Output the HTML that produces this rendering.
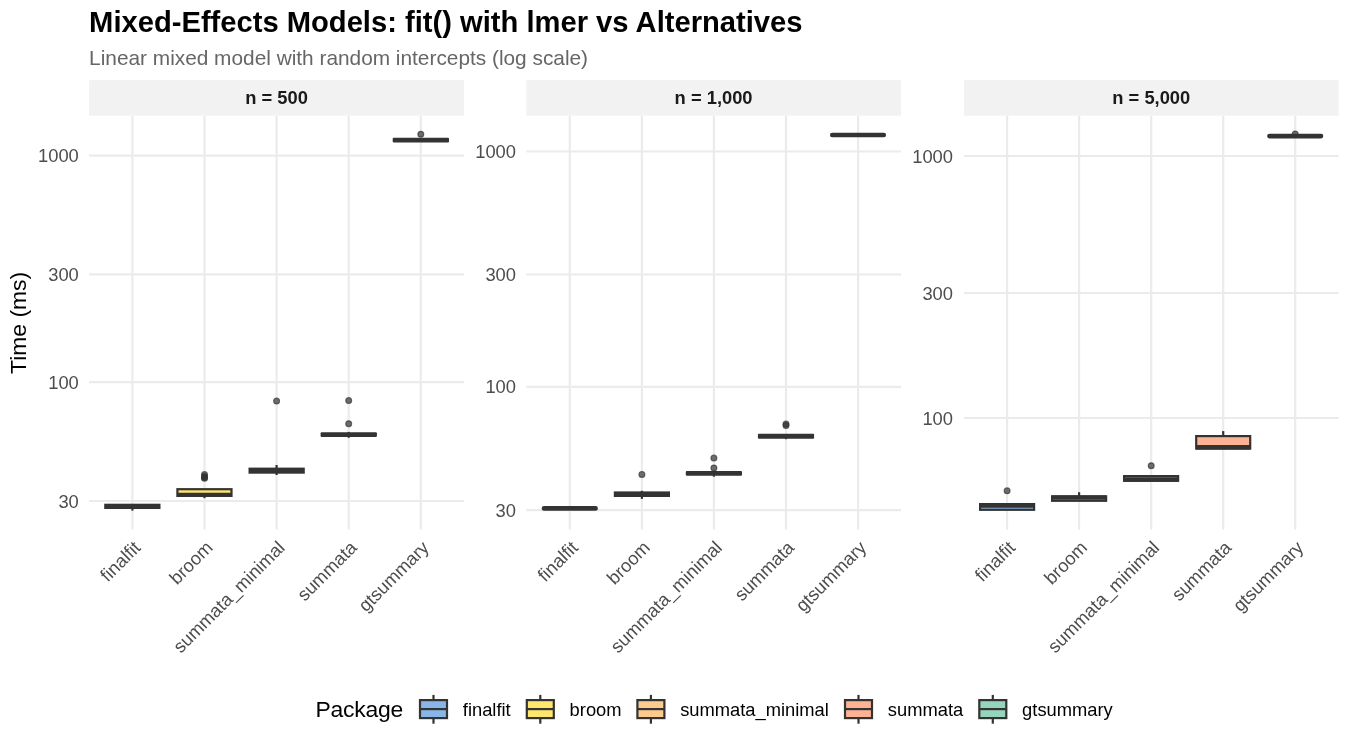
<!DOCTYPE html>
<html lang="en"><head><meta charset="utf-8"><title>Mixed-Effects Models benchmark</title>
<style>html,body{margin:0;padding:0;background:#fff}body{width:1350px;height:750px;overflow:hidden}svg{display:block}text{font-family:"Liberation Sans",sans-serif}</style></head><body>
<svg width="1350" height="750" viewBox="0 0 1350 750">
<rect width="1350" height="750" fill="#ffffff"/>
<text x="89.1" y="31.8" font-size="29.17" font-weight="bold" fill="#000000">Mixed-Effects Models: fit() with lmer vs Alternatives</text>
<text x="89.1" y="64.6" font-size="20.83" fill="#666666">Linear mixed model with random intercepts (log scale)</text>
<text transform="translate(26.3,322.9) rotate(-90)" text-anchor="middle" font-size="22.92" fill="#000000">Time (ms)</text>
<g>
<rect x="89.1" y="80.1" width="375.0" height="35.6" fill="#f2f2f2"/>
<text x="276.6" y="104.0" text-anchor="middle" font-size="18.33" font-weight="bold" fill="#1a1a1a">n = 500</text>
<path d="M89.1 155.7H464.1M89.1 274.3H464.1M89.1 382.1H464.1M89.1 501.0H464.1M132.4 115.7V529.5M204.5 115.7V529.5M276.6 115.7V529.5M348.7 115.7V529.5M420.8 115.7V529.5" stroke="#ebebeb" stroke-width="2.2" fill="none"/>
<text x="78.8" y="162" text-anchor="end" font-size="18.33" fill="#4d4d4d">1000</text>
<text x="78.8" y="281" text-anchor="end" font-size="18.33" fill="#4d4d4d">300</text>
<text x="78.8" y="389" text-anchor="end" font-size="18.33" fill="#4d4d4d">100</text>
<text x="78.8" y="508" text-anchor="end" font-size="18.33" fill="#4d4d4d">30</text>
<text transform="translate(132.4,539.5) rotate(-45)" text-anchor="end" dy="13.1" font-size="18.33" fill="#4d4d4d">finalfit</text>
<text transform="translate(204.5,539.5) rotate(-45)" text-anchor="end" dy="13.1" font-size="18.33" fill="#4d4d4d">broom</text>
<text transform="translate(276.6,539.5) rotate(-45)" text-anchor="end" dy="13.1" font-size="18.33" fill="#4d4d4d">summata_minimal</text>
<text transform="translate(348.7,539.5) rotate(-45)" text-anchor="end" dy="13.1" font-size="18.33" fill="#4d4d4d">summata</text>
<text transform="translate(420.8,539.5) rotate(-45)" text-anchor="end" dy="13.1" font-size="18.33" fill="#4d4d4d">gtsummary</text>
<path d="M132.4 507.9V510.6" stroke="#333333" stroke-width="2.2"/><rect x="104.2" y="503.7" width="56.3" height="5.3" rx="0" fill="#333333"/>
<circle cx="204.5" cy="474.6" r="2.9" fill="#333333" fill-opacity="0.7" stroke="#333333" stroke-opacity="0.7" stroke-width="1.2"/><circle cx="204.5" cy="476.6" r="2.9" fill="#333333" fill-opacity="0.7" stroke="#333333" stroke-opacity="0.7" stroke-width="1.2"/><circle cx="204.5" cy="477.5" r="2.9" fill="#333333" fill-opacity="0.7" stroke="#333333" stroke-opacity="0.7" stroke-width="1.2"/><circle cx="204.5" cy="478.3" r="2.9" fill="#333333" fill-opacity="0.7" stroke="#333333" stroke-opacity="0.7" stroke-width="1.2"/><path d="M204.5 495.9V498.1" stroke="#333333" stroke-width="2.2"/><rect x="177.4" y="489.2" width="54.1" height="6.7" fill="#FFE66D" stroke="#333333" stroke-width="2.2"/><path d="M177.4 494.9H231.5" stroke="#333333" stroke-width="4.4"/>
<circle cx="276.6" cy="401.1" r="2.9" fill="#333333" fill-opacity="0.7" stroke="#333333" stroke-opacity="0.7" stroke-width="1.2"/><path d="M276.6 465.0V468.7" stroke="#333333" stroke-width="2.2"/><path d="M276.6 472.6V475.0" stroke="#333333" stroke-width="2.2"/><rect x="248.5" y="467.6" width="56.3" height="6.1" rx="0" fill="#333333"/>
<circle cx="348.7" cy="400.6" r="2.9" fill="#333333" fill-opacity="0.7" stroke="#333333" stroke-opacity="0.7" stroke-width="1.2"/><circle cx="348.7" cy="423.7" r="2.9" fill="#333333" fill-opacity="0.7" stroke="#333333" stroke-opacity="0.7" stroke-width="1.2"/><path d="M348.7 431.9V433.3" stroke="#333333" stroke-width="2.2"/><path d="M348.7 435.9V437.8" stroke="#333333" stroke-width="2.2"/><rect x="320.6" y="432.2" width="56.3" height="4.8" rx="1.0" fill="#333333"/>
<circle cx="420.8" cy="134.2" r="2.9" fill="#333333" fill-opacity="0.7" stroke="#333333" stroke-opacity="0.7" stroke-width="1.2"/><rect x="392.7" y="137.8" width="56.3" height="4.8" rx="1.0" fill="#333333"/>
</g>
<g>
<rect x="526.3" y="80.1" width="374.7" height="35.6" fill="#f2f2f2"/>
<text x="713.6" y="104.0" text-anchor="middle" font-size="18.33" font-weight="bold" fill="#1a1a1a">n = 1,000</text>
<path d="M526.3 151.5H901.0M526.3 274.5H901.0M526.3 386.8H901.0M526.3 510.2H901.0M569.8 115.7V529.5M641.9 115.7V529.5M713.9 115.7V529.5M786.0 115.7V529.5M858.1 115.7V529.5" stroke="#ebebeb" stroke-width="2.2" fill="none"/>
<text x="516.0" y="158" text-anchor="end" font-size="18.33" fill="#4d4d4d">1000</text>
<text x="516.0" y="281" text-anchor="end" font-size="18.33" fill="#4d4d4d">300</text>
<text x="516.0" y="393" text-anchor="end" font-size="18.33" fill="#4d4d4d">100</text>
<text x="516.0" y="517" text-anchor="end" font-size="18.33" fill="#4d4d4d">30</text>
<text transform="translate(569.8,539.5) rotate(-45)" text-anchor="end" dy="13.1" font-size="18.33" fill="#4d4d4d">finalfit</text>
<text transform="translate(641.9,539.5) rotate(-45)" text-anchor="end" dy="13.1" font-size="18.33" fill="#4d4d4d">broom</text>
<text transform="translate(713.9,539.5) rotate(-45)" text-anchor="end" dy="13.1" font-size="18.33" fill="#4d4d4d">summata_minimal</text>
<text transform="translate(786.0,539.5) rotate(-45)" text-anchor="end" dy="13.1" font-size="18.33" fill="#4d4d4d">summata</text>
<text transform="translate(858.1,539.5) rotate(-45)" text-anchor="end" dy="13.1" font-size="18.33" fill="#4d4d4d">gtsummary</text>
<rect x="541.7" y="506.1" width="56.2" height="4.7" rx="2.3" fill="#333333"/>
<circle cx="641.9" cy="474.4" r="2.9" fill="#333333" fill-opacity="0.7" stroke="#333333" stroke-opacity="0.7" stroke-width="1.2"/><path d="M641.9 490.8V492.5" stroke="#333333" stroke-width="2.2"/><path d="M641.9 495.9V498.9" stroke="#333333" stroke-width="2.2"/><rect x="613.8" y="491.4" width="56.2" height="5.6" rx="0" fill="#333333"/>
<circle cx="713.9" cy="458.1" r="2.9" fill="#333333" fill-opacity="0.7" stroke="#333333" stroke-opacity="0.7" stroke-width="1.2"/><circle cx="713.9" cy="468.0" r="2.9" fill="#333333" fill-opacity="0.7" stroke="#333333" stroke-opacity="0.7" stroke-width="1.2"/><path d="M713.9 474.7V476.7" stroke="#333333" stroke-width="2.2"/><rect x="685.8" y="471.1" width="56.2" height="4.7" rx="1.0" fill="#333333"/>
<circle cx="786.0" cy="423.9" r="2.9" fill="#333333" fill-opacity="0.7" stroke="#333333" stroke-opacity="0.7" stroke-width="1.2"/><circle cx="786.0" cy="425.5" r="2.9" fill="#333333" fill-opacity="0.7" stroke="#333333" stroke-opacity="0.7" stroke-width="1.2"/><path d="M786.0 437.6V439.2" stroke="#333333" stroke-width="2.2"/><rect x="757.9" y="433.8" width="56.2" height="4.9" rx="1.0" fill="#333333"/>
<rect x="829.9" y="132.8" width="56.2" height="4.5" rx="2.3" fill="#333333"/>
</g>
<g>
<rect x="964.0" y="80.1" width="374.6" height="35.6" fill="#f2f2f2"/>
<text x="1151.3" y="104.0" text-anchor="middle" font-size="18.33" font-weight="bold" fill="#1a1a1a">n = 5,000</text>
<path d="M964.0 156.0H1338.6M964.0 293.0H1338.6M964.0 418.0H1338.6M1007.1 115.7V529.5M1079.1 115.7V529.5M1151.2 115.7V529.5M1223.2 115.7V529.5M1295.2 115.7V529.5" stroke="#ebebeb" stroke-width="2.2" fill="none"/>
<text x="953.0" y="163" text-anchor="end" font-size="18.33" fill="#4d4d4d">1000</text>
<text x="953.0" y="300" text-anchor="end" font-size="18.33" fill="#4d4d4d">300</text>
<text x="953.0" y="425" text-anchor="end" font-size="18.33" fill="#4d4d4d">100</text>
<text transform="translate(1007.1,539.5) rotate(-45)" text-anchor="end" dy="13.1" font-size="18.33" fill="#4d4d4d">finalfit</text>
<text transform="translate(1079.1,539.5) rotate(-45)" text-anchor="end" dy="13.1" font-size="18.33" fill="#4d4d4d">broom</text>
<text transform="translate(1151.2,539.5) rotate(-45)" text-anchor="end" dy="13.1" font-size="18.33" fill="#4d4d4d">summata_minimal</text>
<text transform="translate(1223.2,539.5) rotate(-45)" text-anchor="end" dy="13.1" font-size="18.33" fill="#4d4d4d">summata</text>
<text transform="translate(1295.2,539.5) rotate(-45)" text-anchor="end" dy="13.1" font-size="18.33" fill="#4d4d4d">gtsummary</text>
<circle cx="1007.1" cy="490.8" r="2.9" fill="#333333" fill-opacity="0.7" stroke="#333333" stroke-opacity="0.7" stroke-width="1.2"/><rect x="980.1" y="504.1" width="54.0" height="5.7" fill="#89B6E8" stroke="#333333" stroke-width="2.2"/><path d="M980.1 505.6H1034.1" stroke="#333333" stroke-width="4.4"/>
<path d="M1079.1 492.2V496.3" stroke="#333333" stroke-width="2.2"/><rect x="1052.1" y="496.3" width="54.0" height="4.5" fill="#FFE66D" stroke="#333333" stroke-width="2.2"/><path d="M1052.1 497.6H1106.1" stroke="#333333" stroke-width="4.4"/>
<circle cx="1151.2" cy="465.7" r="2.9" fill="#333333" fill-opacity="0.7" stroke="#333333" stroke-opacity="0.7" stroke-width="1.2"/><rect x="1124.1" y="476.1" width="54.0" height="4.7" fill="#FDCB8E" stroke="#333333" stroke-width="2.2"/><path d="M1124.1 479.5H1178.2" stroke="#333333" stroke-width="4.4"/>
<path d="M1223.2 431.1V436.1" stroke="#333333" stroke-width="2.2"/><rect x="1196.2" y="436.1" width="54.0" height="12.5" fill="#FDB294" stroke="#333333" stroke-width="2.2"/><path d="M1196.2 447.3H1250.2" stroke="#333333" stroke-width="4.4"/>
<circle cx="1295.2" cy="134.0" r="2.9" fill="#333333" fill-opacity="0.7" stroke="#333333" stroke-opacity="0.7" stroke-width="1.2"/><rect x="1267.1" y="133.7" width="56.2" height="4.7" rx="2.3" fill="#333333"/>
</g>
<text x="315.5" y="717.2" font-size="22.92" fill="#000000" letter-spacing="-0.24">Package</text>
<g><path d="M433.5 694.9V723.7" stroke="#333333" stroke-width="2.2"/><rect x="420.0" y="700.1" width="27" height="18" fill="#89B6E8" stroke="#333333" stroke-width="2.2"/><path d="M420.0 709.1H447.0" stroke="#333333" stroke-width="2.2"/><text x="462.8" y="715.8" font-size="18.33" fill="#000000">finalfit</text></g>
<g><path d="M540.3 694.9V723.7" stroke="#333333" stroke-width="2.2"/><rect x="526.8" y="700.1" width="27" height="18" fill="#FFE66D" stroke="#333333" stroke-width="2.2"/><path d="M526.8 709.1H553.8" stroke="#333333" stroke-width="2.2"/><text x="569.6" y="715.8" font-size="18.33" fill="#000000">broom</text></g>
<g><path d="M650.9 694.9V723.7" stroke="#333333" stroke-width="2.2"/><rect x="637.4" y="700.1" width="27" height="18" fill="#FDCB8E" stroke="#333333" stroke-width="2.2"/><path d="M637.4 709.1H664.4" stroke="#333333" stroke-width="2.2"/><text x="680.2" y="715.8" font-size="18.33" fill="#000000">summata_minimal</text></g>
<g><path d="M858.5 694.9V723.7" stroke="#333333" stroke-width="2.2"/><rect x="845.0" y="700.1" width="27" height="18" fill="#FDB294" stroke="#333333" stroke-width="2.2"/><path d="M845.0 709.1H872.0" stroke="#333333" stroke-width="2.2"/><text x="887.8" y="715.8" font-size="18.33" fill="#000000">summata</text></g>
<g><path d="M992.8 694.9V723.7" stroke="#333333" stroke-width="2.2"/><rect x="979.3" y="700.1" width="27" height="18" fill="#95D5BE" stroke="#333333" stroke-width="2.2"/><path d="M979.3 709.1H1006.3" stroke="#333333" stroke-width="2.2"/><text x="1022.1" y="715.8" font-size="18.33" fill="#000000">gtsummary</text></g>
</svg></body></html>
